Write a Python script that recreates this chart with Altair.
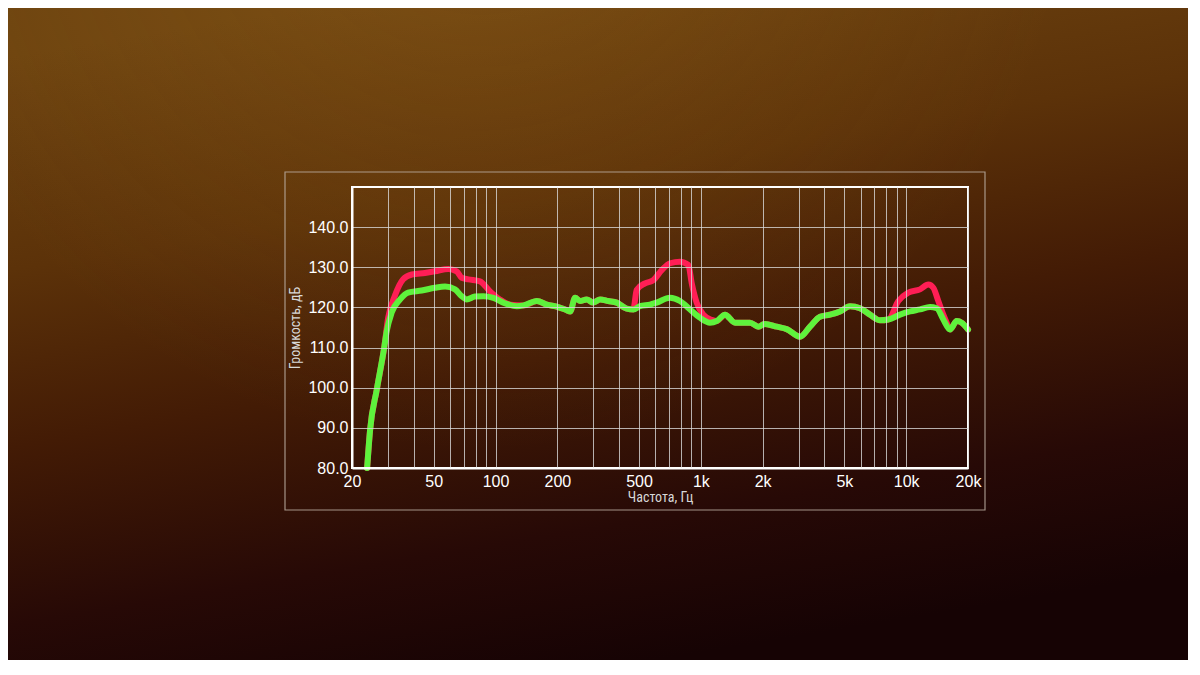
import altair as alt
import pandas as pd

# ---- data ----
green_freq = [23.7, 24.5, 26.4, 28.7, 29.5, 31.2, 34.3, 37.5, 43.7, 50.7, 56.8, 63.5, 68.4, 72.4,
              79.4, 87.2, 97.6, 109, 127, 137, 159, 178, 202, 222, 231, 244, 258, 278, 299, 323,
              354, 389, 435, 469, 505, 565, 609, 708, 791, 886, 991, 1108, 1195, 1311, 1467,
              1736, 1905, 2053, 2342, 2618, 3040, 3402, 3804, 4256, 4762, 5326, 5958, 6666,
              7457, 8185, 9334, 10442, 11681, 13062, 14082, 15164, 16346, 17620, 18632, 20000]
green_db = [80, 89.5, 99.5, 110, 114, 118.7, 122, 123.7, 124.2, 124.9, 125.2, 124.5, 122.8, 122,
            122.7, 122.8, 122.4, 121.2, 120.3, 120.5, 121.6, 120.7, 120.1, 119.3, 119, 122.4,
            121.6, 122, 121.2, 122, 121.6, 121.2, 119.7, 119.5, 120.3, 120.7, 121.2, 122.4,
            121.6, 119.5, 117.4, 116.2, 116.6, 118.2, 116.2, 116.2, 115.2, 115.9, 115.2, 114.6,
            112.7, 115.2, 117.7, 118.2, 119, 120.3, 119.8, 118.2, 116.8, 117, 118.2, 119, 119.5,
            120.1, 119.8, 117, 114.5, 116.6, 116.2, 114.5]

red_freq = [23.7, 24.5, 26.4, 28.7, 30.0, 32.4, 35.5, 39.1, 45.3, 50.7, 58.9, 64.7, 68.4, 73.7,
            84, 94, 105, 118, 137, 159, 178, 202, 222, 231, 244, 258, 278, 299, 323, 354, 389,
            435, 469, 487, 535, 587, 645, 708, 791, 869, 903, 954, 1028, 1129, 1195, 1311, 1467,
            1736, 1905, 2053, 2342, 2618, 3040, 3402, 3804, 4256, 4762, 5326, 5958, 6666, 7457,
            8185, 9158, 10244, 11681, 12814, 13554, 14338, 15164, 15750, 16346, 17620, 18632,
            20000]
red_db = [80, 89.5, 99.5, 110, 117.4, 123, 127, 128.2, 128.6, 129, 129.6, 129, 127.4, 127,
          126.5, 124, 122, 120.7, 120.5, 121.6, 120.7, 120.1, 119.3, 119, 122.4, 121.6, 122,
          121.2, 122, 121.6, 121.2, 119.7, 119.5, 124.4, 126, 126.8, 129.3, 131, 131.4, 130.6,
          126, 121.2, 118.2, 116.9, 116.6, 118.2, 116.2, 116.2, 115.2, 115.9, 115.2, 114.6,
          112.7, 115.2, 117.7, 118.2, 119, 120.3, 119.8, 118.2, 116.8, 117, 121.6, 123.7, 124.5,
          125.7, 124.9, 121.6, 118.2, 116.2, 114.5, 116.6, 116.2, 114.5]

grid_freqs = [20, 30, 40, 50, 60, 70, 80, 90, 100, 200, 300, 400, 500, 600, 700, 800, 900,
              1000, 2000, 3000, 4000, 5000, 6000, 7000, 8000, 9000, 10000, 20000]
label_freqs = [20, 50, 100, 200, 500, 1000, 2000, 5000, 10000, 20000]
db_ticks = [80, 90, 100, 110, 120, 130, 140]

x_title = "Частота, Гц"
y_title = "Громкость, дБ"

green_df = pd.DataFrame({"freq": green_freq, "db": green_db})
red_df = pd.DataFrame({"freq": red_freq, "db": red_db})

W, H = 616, 281
PAD = {"left": 344, "top": 179, "right": 220, "bottom": 192}

label_list = "[" + ",".join(str(v) for v in label_freqs) + "]"
label_expr = (f"indexof({label_list}, datum.value) >= 0 ? "
              "(datum.value >= 1000 ? format(datum.value / 1000, 'd') + 'k' : format(datum.value, 'd')) : ''")

x_enc = alt.X("freq:Q",
              scale=alt.Scale(type="log", domain=[20, 20000], nice=False),
              axis=alt.Axis(values=grid_freqs, labelExpr=label_expr, title=x_title,
                            ticks=False, labelPadding=5, titlePadding=1, zindex=1,
                            labelFlush=False, labelOverlap=False, labelBound=False))
y_enc = alt.Y("db:Q",
              scale=alt.Scale(domain=[80, 150], nice=False, zero=False),
              axis=alt.Axis(values=db_ticks, format=".1f", title=y_title,
                            ticks=False, labelPadding=4, titlePadding=5, zindex=1,
                            labelFlush=False))

full = dict(x=alt.value(-PAD["left"]), x2=alt.value(W + PAD["right"]),
            y=alt.value(-PAD["top"]), y2=alt.value(H + PAD["bottom"]))

bg = alt.Chart(alt.Data(values=[{}])).mark_rect(
    color=alt.Gradient(
        gradient="linear", x1=0.25, y1=0, x2=0.55, y2=1,
        stops=[alt.GradientStop(color="#6e4410", offset=0),
               alt.GradientStop(color="#5c3209", offset=0.3),
               alt.GradientStop(color="#431b05", offset=0.55),
               alt.GradientStop(color="#270906", offset=0.8),
               alt.GradientStop(color="#160304", offset=1)]),
).encode(**full)

glow = alt.Chart(alt.Data(values=[{}])).mark_rect(
    color=alt.Gradient(
        gradient="radial", x1=0.4, y1=0.1, r1=0, x2=0.4, y2=0.1, r2=0.5,
        stops=[alt.GradientStop(color="rgba(176,120,32,0.22)", offset=0),
               alt.GradientStop(color="rgba(176,120,32,0)", offset=1)]),
).encode(**full)

box = alt.Chart(alt.Data(values=[{}])).mark_rect(
    fill="transparent", stroke="#b8aca0", strokeWidth=1.2, strokeOpacity=0.85
).encode(x=alt.value(-67), x2=alt.value(633), y=alt.value(-15), y2=alt.value(323))

frame = alt.Chart(alt.Data(values=[{}])).mark_rect(
    fill="transparent", stroke="#ffffff", strokeWidth=2
).encode(x=alt.value(0), x2=alt.value(W), y=alt.value(0), y2=alt.value(H))

red = alt.Chart(red_df).mark_line(
    color="#ff1e55", strokeWidth=6, interpolate="monotone", strokeCap="round", strokeJoin="round"
).encode(x=x_enc, y=y_enc)

green = alt.Chart(green_df).mark_line(
    color="#5ef23c", strokeWidth=6, interpolate="monotone", strokeCap="round", strokeJoin="round"
).encode(x="freq:Q", y="db:Q")

chart = alt.layer(bg, glow, box, red, green, frame).properties(
    width=W, height=H, padding=PAD, autosize=alt.AutoSizeParams(type="none"),
    background="#2a0c06",
).configure_view(
    strokeWidth=0
).configure_axis(
    grid=True, gridColor="#d8d8d8", gridOpacity=0.8, gridWidth=1,
    domainColor="#ffffff", domainWidth=2,
    labelColor="#ffffff", labelFont="Liberation Sans", labelFontSize=16,
    titleColor="#d8d8d8", titleFont="'Liberation Sans Narrow', 'Roboto Condensed', 'Liberation Sans'",
    titleFontSize=14, titleFontWeight="normal",
)

chart.save("out.html", embed_options={"renderer": "svg", "actions": False})
